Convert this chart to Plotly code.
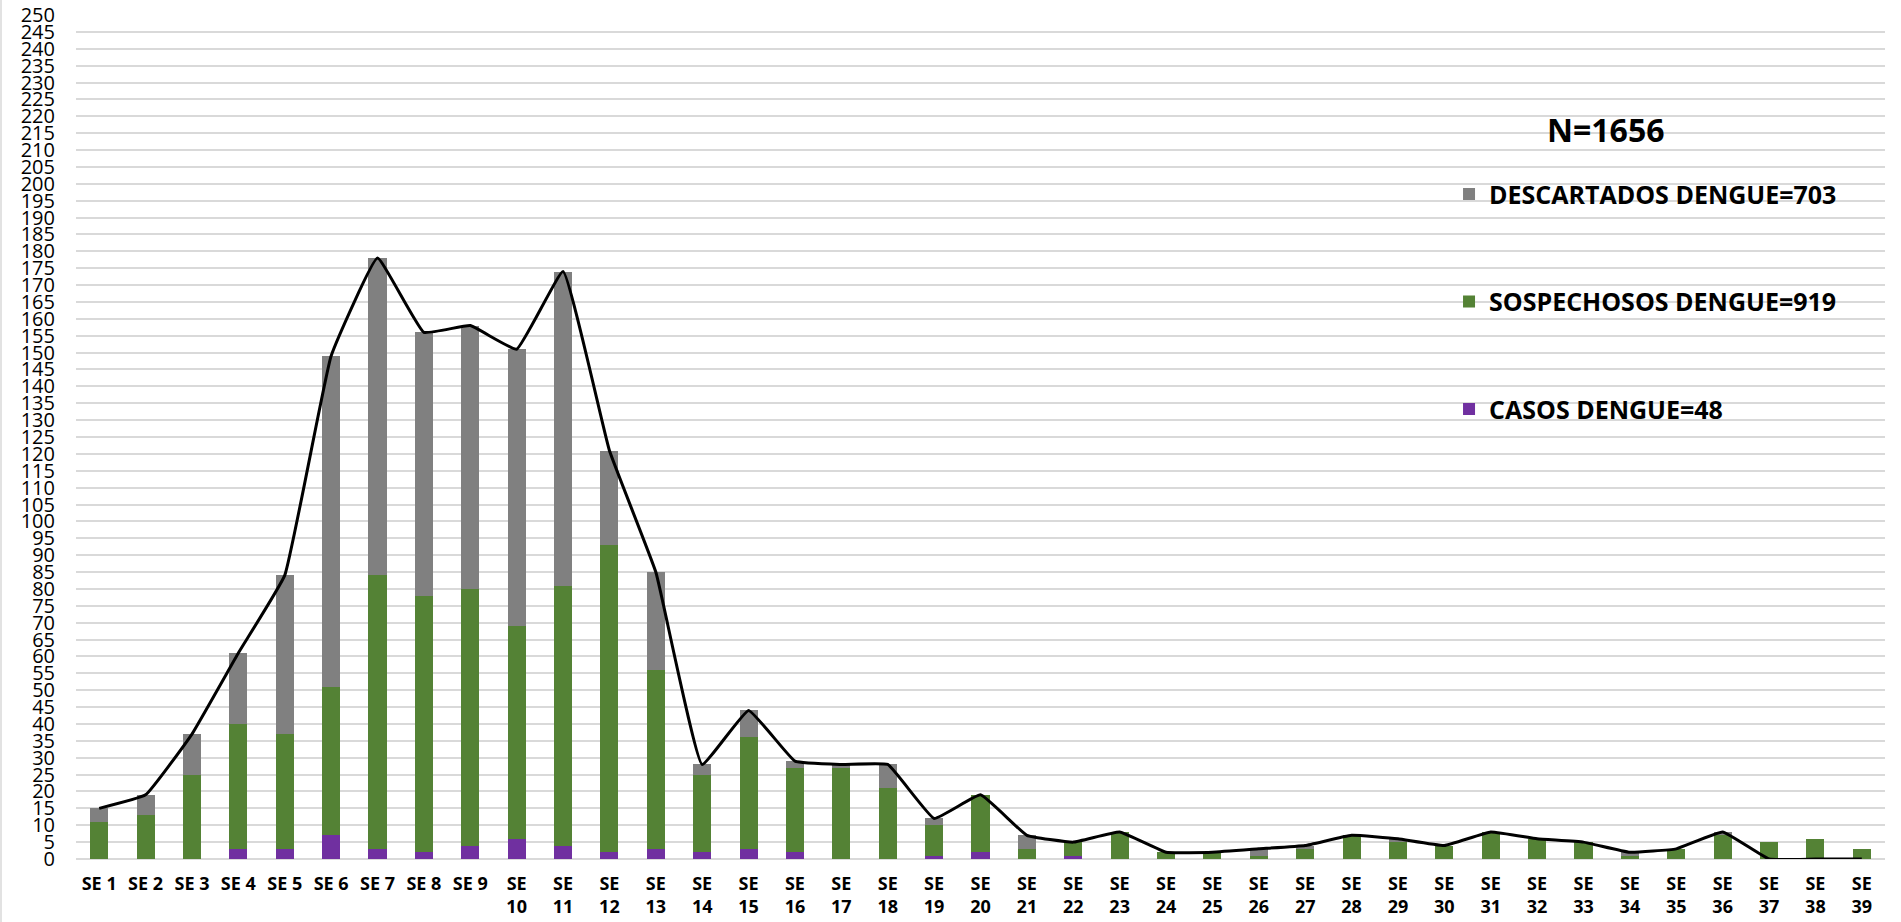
import plotly.graph_objects as go

weeks = [f"SE {i}" for i in range(1, 40)]
tick_labels = [w if i < 10 else f"SE<br>{i}" for i, w in zip(range(1, 40), weeks)]

casos = [0, 0, 0, 3, 3, 7, 3, 2, 4, 6, 4, 2, 3, 2, 3, 2, 0, 0, 1, 2,
         0, 1, 0, 0, 0, 0, 0, 0, 0, 0, 0, 0, 0, 0, 0, 0, 0, 0, 0]
sospechosos = [11, 13, 25, 37, 34, 44, 81, 76, 76, 63, 77, 91, 53, 23, 33, 25, 27, 21, 9, 17,
               3, 4, 8, 2, 2, 1, 3, 7, 5, 4, 8, 6, 5, 1, 3, 7, 5, 6, 3]
descartados = [4, 6, 12, 21, 47, 98, 94, 78, 78, 82, 93, 28, 29, 3, 8, 2, 1, 7, 2, 0,
               4, 0, 0, 0, 0, 2, 1, 0, 1, 0, 0, 0, 0, 1, 0, 1, 0, 0, 0]
total_line = [15, 19, 37, 61, 84, 149, 178, 156, 158, 151, 174, 121, 85, 28, 44, 29, 28, 28, 12, 19,
              7, 5, 8, 2, 2, 3, 4, 7, 6, 4, 8, 6, 5, 2, 3, 8, 0, 0, 0]

FONT = "Open Sans"

fig = go.Figure()
fig.add_trace(go.Bar(x=weeks, y=casos, name="CASOS DENGUE=48", legendrank=3,
                     marker=dict(color="#7030A0", line=dict(width=0)), legendgroup="c"))
fig.add_trace(go.Bar(x=weeks, y=sospechosos, name="SOSPECHOSOS DENGUE=919", legendrank=2,
                     marker=dict(color="#548235", line=dict(width=0)), legendgroup="s"))
fig.add_trace(go.Bar(x=weeks, y=descartados, name="DESCARTADOS DENGUE=703", legendrank=1,
                     marker=dict(color="#808080", line=dict(width=0)), legendgroup="d"))
fig.add_trace(go.Scatter(x=weeks, y=total_line, mode="lines", showlegend=False,
                         line=dict(color="black", width=3, shape="spline", smoothing=0.3)))

fig.update_layout(
    width=1901, height=922,
    barmode="stack", bargap=0.61,
    plot_bgcolor="white", paper_bgcolor="white",
    margin=dict(l=76, r=16, t=15, b=63),
    font=dict(family=FONT, color="black"),
    legend=dict(x=0.759, y=0.815, xanchor="left", yanchor="top",
                traceorder="grouped", tracegroupgap=72,
                font=dict(family=FONT, size=25, color="black", weight="bold"),
                bgcolor="rgba(0,0,0,0)", itemwidth=30),
    annotations=[dict(text="<b>N=1656</b>", x=0.846, y=0.864, xref="paper", yref="paper",
                      xanchor="center", yanchor="middle",
                      showarrow=False, font=dict(family=FONT, size=32, color="black"))],
    shapes=[dict(type="line", xref="paper", yref="paper", x0=-75/1809, x1=-75/1809,
                 y0=-63/844, y1=1 + 15/844, line=dict(color="#d9d9d9", width=1.5))],
)
fig.update_xaxes(tickmode="array", tickvals=weeks, ticktext=tick_labels,
                 tickfont=dict(family=FONT, size=18, color="black", weight="bold"),
                 showgrid=False, showline=False, ticks="", ticklabelstandoff=12,
                 range=[-0.5, 38.5], automargin=False)
fig.update_yaxes(range=[0, 250], dtick=5, tick0=0, showgrid=True, gridcolor="#d9d9d9",
                 gridwidth=1.5, zeroline=True, zerolinecolor="#d9d9d9", zerolinewidth=1.5,
                 tickfont=dict(family=FONT, size=20, color="black"), ticks="",
                 ticklabelstandoff=20, showline=False, automargin=False)

fig.write_html("out.html", config={"displayModeBar": False},
               post_script="document.body.style.margin='0';document.body.style.padding='0';")
